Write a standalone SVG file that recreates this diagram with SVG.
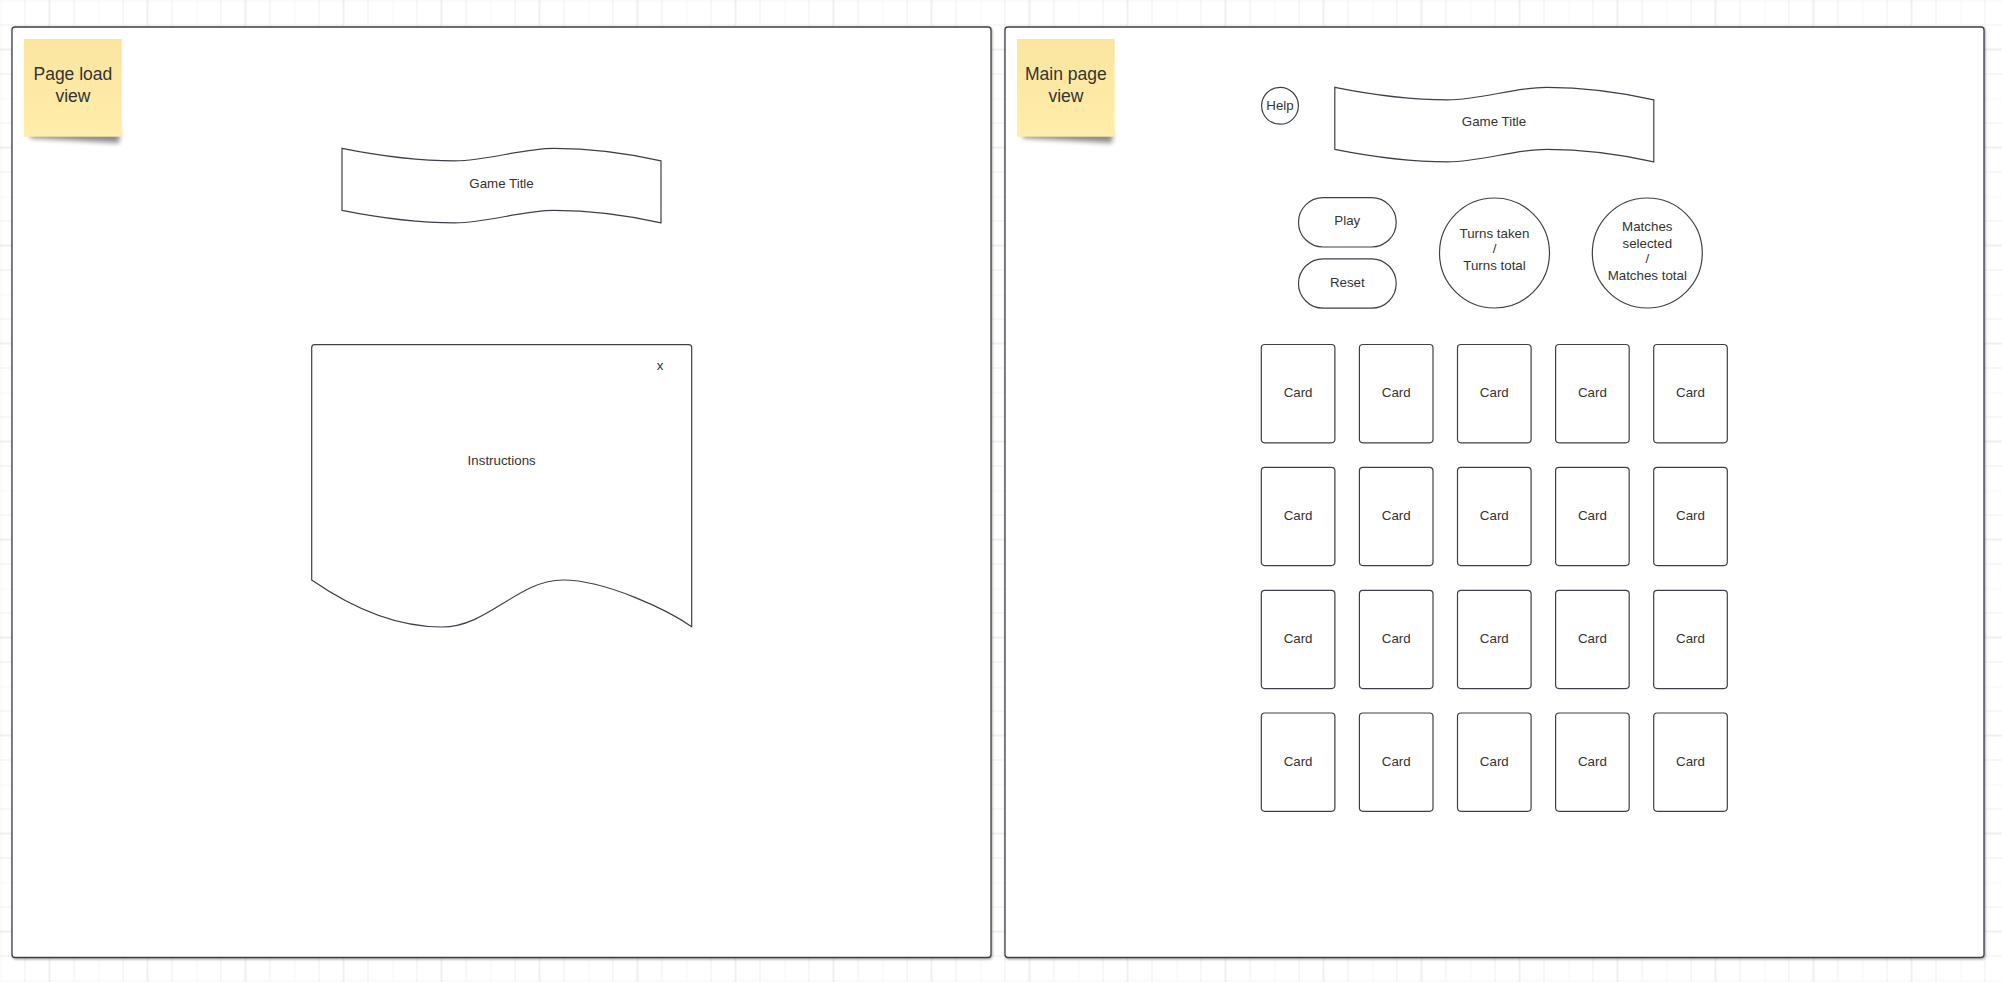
<svg xmlns="http://www.w3.org/2000/svg" width="2002" height="982" viewBox="0 0 2002 982">
<style>
.panel{fill:#ffffff;stroke:#3b4049;stroke-width:1.3}
.shape{fill:#ffffff;stroke:#3b4049;stroke-width:1.2}
.lbl{font-family:"Liberation Sans",Arial,sans-serif;font-size:13.33px;fill:#333333;text-anchor:middle}
.sticky-t{font-family:"Liberation Sans",Arial,sans-serif;font-size:17.5px;fill:#333333;text-anchor:middle}
</style>
<defs>
<pattern id="grid" width="98" height="98" patternUnits="userSpaceOnUse" x="0.5" y="0.5">
<path d="M0,0 V98 M24.5,0 V98 M73.5,0 V98 M0,0 H98 M0,24.5 H98 M0,73.5 H98" stroke="#eeeeee" stroke-width="1" fill="none"/>
<path d="M49,0 V98 M0,49 H98" stroke="#e0e0e0" stroke-width="1" fill="none"/>
</pattern>
<linearGradient id="stickyFill" x1="0" y1="0" x2="0" y2="1">
<stop offset="0" stop-color="#fbe5a0"/>
<stop offset="1" stop-color="#ffeda9"/>
</linearGradient>
<filter id="blur" x="-20%" y="-50%" width="140%" height="200%">
<feGaussianBlur stdDeviation="2.5"/>
</filter>
<filter id="panelShadow" x="-2%" y="-2%" width="104%" height="104%">
<feDropShadow dx="0.8" dy="1.2" stdDeviation="0.8" flood-color="#000000" flood-opacity="0.35"/>
</filter>
<path id="banner" d="M0,0 C40,8 80,12.5 113,12.5 C146,12.5 180,0 212,0 C250,0 290,6 319,12.5 L319,74.5 C290,68 250,62 212,62 C180,62 146,74.5 113,74.5 C80,74.5 40,70 0,62 Z"/>
</defs>
<rect x="0" y="0" width="2002" height="982" fill="#ffffff"/>
<rect x="0" y="0" width="2002" height="982" fill="url(#grid)"/>

<g id="panel-page-load">
<rect class="panel" x="12" y="27" width="979" height="930.5" rx="3" filter="url(#panelShadow)"/>
</g>
<g id="panel-main-page">
<rect class="panel" x="1005" y="27" width="979" height="930.5" rx="3" filter="url(#panelShadow)"/>
</g>

<g id="sticky-page-load">
<path d="M30,131 L120,131 L119,143 C90,141 60,140 30,138 Z" fill="#000000" opacity="0.45" filter="url(#blur)"/>
<rect x="24" y="39" width="97.7" height="97.7" fill="url(#stickyFill)"/>
<text class="sticky-t" x="72.9" y="80">Page load</text>
<text class="sticky-t" x="72.9" y="101.7">view</text>
</g>
<g id="sticky-main-page">
<path d="M1023,131 L1113,131 L1112,143 C1083,141 1053,140 1023,138 Z" fill="#000000" opacity="0.45" filter="url(#blur)"/>
<rect x="1017" y="39" width="97.7" height="97.7" fill="url(#stickyFill)"/>
<text class="sticky-t" x="1065.9" y="80">Main page</text>
<text class="sticky-t" x="1065.9" y="101.7">view</text>
</g>

<g id="title-load">
<use href="#banner" class="shape" transform="translate(342,148.3)"/>
<text class="lbl" x="501.5" y="187.6">Game Title</text>
</g>

<g id="instructions">
<path class="shape" d="M311.7,347.7 Q311.7,344.7 314.7,344.7 L688.7,344.7 Q691.7,344.7 691.7,347.7 L691.7,626.7 C668,610 605,580 563,580 C518,580 488,627 442,627 C398,627 355,610 311.7,580 Z"/>
<text class="lbl" x="501.7" y="465.3">Instructions</text>
<text class="lbl" x="660" y="370">x</text>
</g>

<g id="help">
<circle class="shape" cx="1280" cy="105.8" r="18.4"/>
<text class="lbl" x="1280" y="109.5">Help</text>
</g>

<g id="title-main">
<use href="#banner" class="shape" transform="translate(1334.8,87.3)"/>
<text class="lbl" x="1494" y="126.4">Game Title</text>
</g>

<g id="play">
<rect class="shape" x="1298.5" y="197.7" width="97.7" height="49.3" rx="24.6"/>
<text class="lbl" x="1347.3" y="225.3">Play</text>
</g>
<g id="reset">
<rect class="shape" x="1298.5" y="258.8" width="97.7" height="49.4" rx="24.7"/>
<text class="lbl" x="1347.3" y="286.6">Reset</text>
</g>

<g id="turns">
<circle class="shape" cx="1494.5" cy="253" r="55"/>
<text class="lbl" x="1494.5" y="237.5">Turns taken</text>
<text class="lbl" x="1494.5" y="253.3">/</text>
<text class="lbl" x="1494.5" y="270.2">Turns total</text>
</g>
<g id="matches">
<circle class="shape" cx="1647.3" cy="253" r="55"/>
<text class="lbl" x="1647.3" y="231.3">Matches</text>
<text class="lbl" x="1647.3" y="247.6">selected</text>
<text class="lbl" x="1647.3" y="263.4">/</text>
<text class="lbl" x="1647.3" y="280.2">Matches total</text>
</g>

<g id="card-1-1"><rect class="shape" x="1261.3" y="344.5" width="73.6" height="98.3" rx="3.5"/><text class="lbl" x="1298.1" y="397.1">Card</text></g>
<g id="card-1-2"><rect class="shape" x="1359.4" y="344.5" width="73.6" height="98.3" rx="3.5"/><text class="lbl" x="1396.2" y="397.1">Card</text></g>
<g id="card-1-3"><rect class="shape" x="1457.5" y="344.5" width="73.6" height="98.3" rx="3.5"/><text class="lbl" x="1494.3" y="397.1">Card</text></g>
<g id="card-1-4"><rect class="shape" x="1555.6" y="344.5" width="73.6" height="98.3" rx="3.5"/><text class="lbl" x="1592.4" y="397.1">Card</text></g>
<g id="card-1-5"><rect class="shape" x="1653.7" y="344.5" width="73.6" height="98.3" rx="3.5"/><text class="lbl" x="1690.5" y="397.1">Card</text></g>

<g id="card-2-1"><rect class="shape" x="1261.3" y="467.3" width="73.6" height="98.3" rx="3.5"/><text class="lbl" x="1298.1" y="519.9">Card</text></g>
<g id="card-2-2"><rect class="shape" x="1359.4" y="467.3" width="73.6" height="98.3" rx="3.5"/><text class="lbl" x="1396.2" y="519.9">Card</text></g>
<g id="card-2-3"><rect class="shape" x="1457.5" y="467.3" width="73.6" height="98.3" rx="3.5"/><text class="lbl" x="1494.3" y="519.9">Card</text></g>
<g id="card-2-4"><rect class="shape" x="1555.6" y="467.3" width="73.6" height="98.3" rx="3.5"/><text class="lbl" x="1592.4" y="519.9">Card</text></g>
<g id="card-2-5"><rect class="shape" x="1653.7" y="467.3" width="73.6" height="98.3" rx="3.5"/><text class="lbl" x="1690.5" y="519.9">Card</text></g>

<g id="card-3-1"><rect class="shape" x="1261.3" y="590.3" width="73.6" height="98.3" rx="3.5"/><text class="lbl" x="1298.1" y="642.9">Card</text></g>
<g id="card-3-2"><rect class="shape" x="1359.4" y="590.3" width="73.6" height="98.3" rx="3.5"/><text class="lbl" x="1396.2" y="642.9">Card</text></g>
<g id="card-3-3"><rect class="shape" x="1457.5" y="590.3" width="73.6" height="98.3" rx="3.5"/><text class="lbl" x="1494.3" y="642.9">Card</text></g>
<g id="card-3-4"><rect class="shape" x="1555.6" y="590.3" width="73.6" height="98.3" rx="3.5"/><text class="lbl" x="1592.4" y="642.9">Card</text></g>
<g id="card-3-5"><rect class="shape" x="1653.7" y="590.3" width="73.6" height="98.3" rx="3.5"/><text class="lbl" x="1690.5" y="642.9">Card</text></g>

<g id="card-4-1"><rect class="shape" x="1261.3" y="713" width="73.6" height="98.3" rx="3.5"/><text class="lbl" x="1298.1" y="765.6">Card</text></g>
<g id="card-4-2"><rect class="shape" x="1359.4" y="713" width="73.6" height="98.3" rx="3.5"/><text class="lbl" x="1396.2" y="765.6">Card</text></g>
<g id="card-4-3"><rect class="shape" x="1457.5" y="713" width="73.6" height="98.3" rx="3.5"/><text class="lbl" x="1494.3" y="765.6">Card</text></g>
<g id="card-4-4"><rect class="shape" x="1555.6" y="713" width="73.6" height="98.3" rx="3.5"/><text class="lbl" x="1592.4" y="765.6">Card</text></g>
<g id="card-4-5"><rect class="shape" x="1653.7" y="713" width="73.6" height="98.3" rx="3.5"/><text class="lbl" x="1690.5" y="765.6">Card</text></g>

<g id="connectors"></g>
</svg>
